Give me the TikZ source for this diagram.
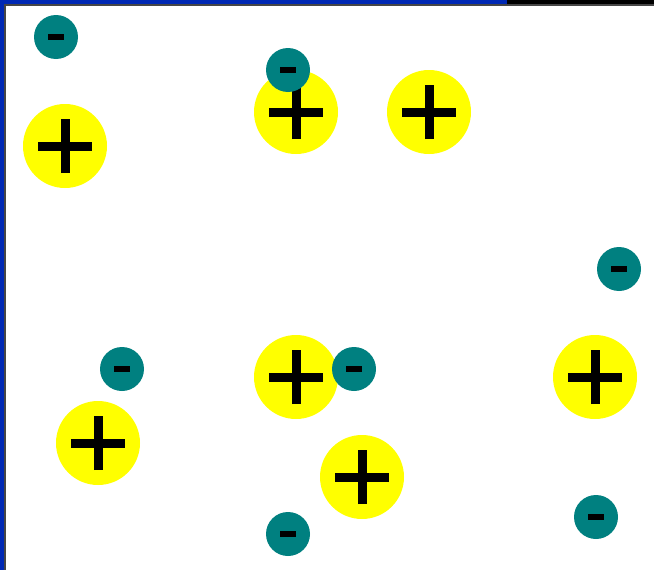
\documentclass[tikz,border=0pt]{standalone}
\definecolor{frameblue}{RGB}{0,40,180}
\definecolor{ionteal}{RGB}{0,128,128}
\definecolor{ionyellow}{RGB}{255,255,0}
\definecolor{edgegray}{RGB}{70,70,70}
\tikzset{
  x=1pt, y=-1pt,
  posion/.style={circle, fill=ionyellow, minimum size=84pt, inner sep=0pt},
  negion/.style={circle, fill=ionteal, minimum size=44pt, inner sep=0pt},
  plusbar/.style={line width=9pt, black},
  minusbar/.style={line width=6.5pt, black}
}
\newcommand{\plusion}[2]{%
  \node[posion] (#1) at #2 {};
  \draw[plusbar] ([xshift=-27pt]#1.center) -- ([xshift=27pt]#1.center);
  \draw[plusbar] ([yshift=-27pt]#1.center) -- ([yshift=27pt]#1.center);
}
\newcommand{\minusion}[2]{%
  \node[negion] (#1) at #2 {};
  \draw[minusbar] ([xshift=-8pt]#1.center) -- ([xshift=8pt]#1.center);
}
\begin{document}
\begin{tikzpicture}
\useasboundingbox (0,0) rectangle (654,570);
\fill[white] (0,0) rectangle (654,570);
% frame
\fill[frameblue] (0,0) rectangle (4,570);
\fill[edgegray] (4,4) rectangle (6,570);
\fill[frameblue] (0,0) rectangle (507,4);
\fill[black] (507,0) rectangle (654,5);
\fill[edgegray] (4,4) rectangle (654,6);
% positive ions
\plusion{p1}{(65,146)}
\plusion{p2}{(296,112)}
\plusion{p3}{(429,112)}
\plusion{p4}{(296,377)}
\plusion{p5}{(595,377)}
\plusion{p6}{(98,443)}
\plusion{p7}{(362,477)}
% negative ions
\minusion{m1}{(56,37)}
\minusion{m2}{(288,70)}
\minusion{m3}{(619,269)}
\minusion{m4}{(122,369)}
\minusion{m5}{(354,369)}
\minusion{m6}{(288,534)}
\minusion{m7}{(596,517)}
\end{tikzpicture}
\end{document}
